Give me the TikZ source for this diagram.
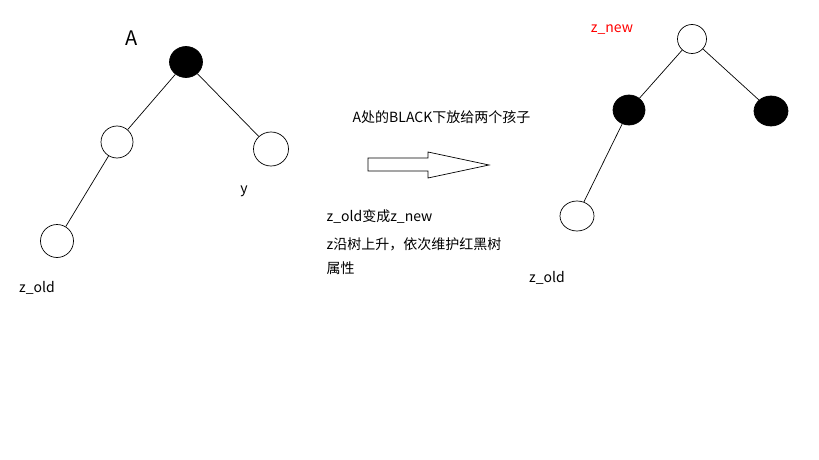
\documentclass[tikz,border=0pt]{standalone}
\usepackage{fontspec}
\setmainfont{Noto Sans CJK SC}
\usepackage{tikz}
\usetikzlibrary{arrows}
\usetikzlibrary{shapes,backgrounds}

\begin{document}
\begin{tikzpicture}[x=1pt,y=-1pt,line width=0.7pt,
                    black node/.style={ellipse,draw,fill=black,inner sep=0pt},
                    white node/.style={ellipse,draw,fill=white,inner sep=0pt},
                    label text/.style={font=\fontsize{14}{16}\selectfont}]
  \useasboundingbox (0,0) rectangle (819,460);

  % before
  \node[black node,minimum width=33,minimum height=31] (A) at (186,62) {};
  \node[white node,minimum width=32,minimum height=32] (L) at (117,142) {};
  \node[white node,minimum width=35,minimum height=34] (y) at (271,149) {};
  \node[white node,minimum width=33,minimum height=33] (zo) at (57,241) {};

  \node[font=\fontsize{20}{22}\selectfont] (Alab) at (132,38) {A};
  \node[label text] (ylab) at (244,191) {y};
  \node[label text] (zolab) at (37,288) {z\_old};

  \path
    (A) edge (L)
        edge (y)
    (L) edge (zo);

  % arrow
  \draw (368,158) -- (428,158) -- (428,152) -- (489,165) -- (428,178) -- (428,171) -- (368,171) -- cycle;

  \node[label text,anchor=west] (t1) at (349,117) {A处的BLACK下放给两个孩子};
  \node[label text,anchor=west] (t2) at (323,217) {z\_old变成z\_new};
  \node[label text,anchor=west] (t3) at (323,244) {z沿树上升，依次维护红黑树};
  \node[label text,anchor=west] (t4) at (323,268) {属性};

  % after
  \node[white node,minimum width=29,minimum height=29] (zn) at (692,39) {};
  \node[black node,minimum width=32,minimum height=30] (B1) at (629,110) {};
  \node[black node,minimum width=34,minimum height=30] (B2) at (771,111) {};
  \node[white node,minimum width=34,minimum height=30] (zo2) at (577,216) {};

  \node[label text,text=red] (znlab) at (612,30) {z\_new};
  \node[label text] (zo2lab) at (547,278) {z\_old};

  \path
    (zn) edge (B1)
         edge (B2)
    (B1) edge (zo2);
\end{tikzpicture}
\end{document}
